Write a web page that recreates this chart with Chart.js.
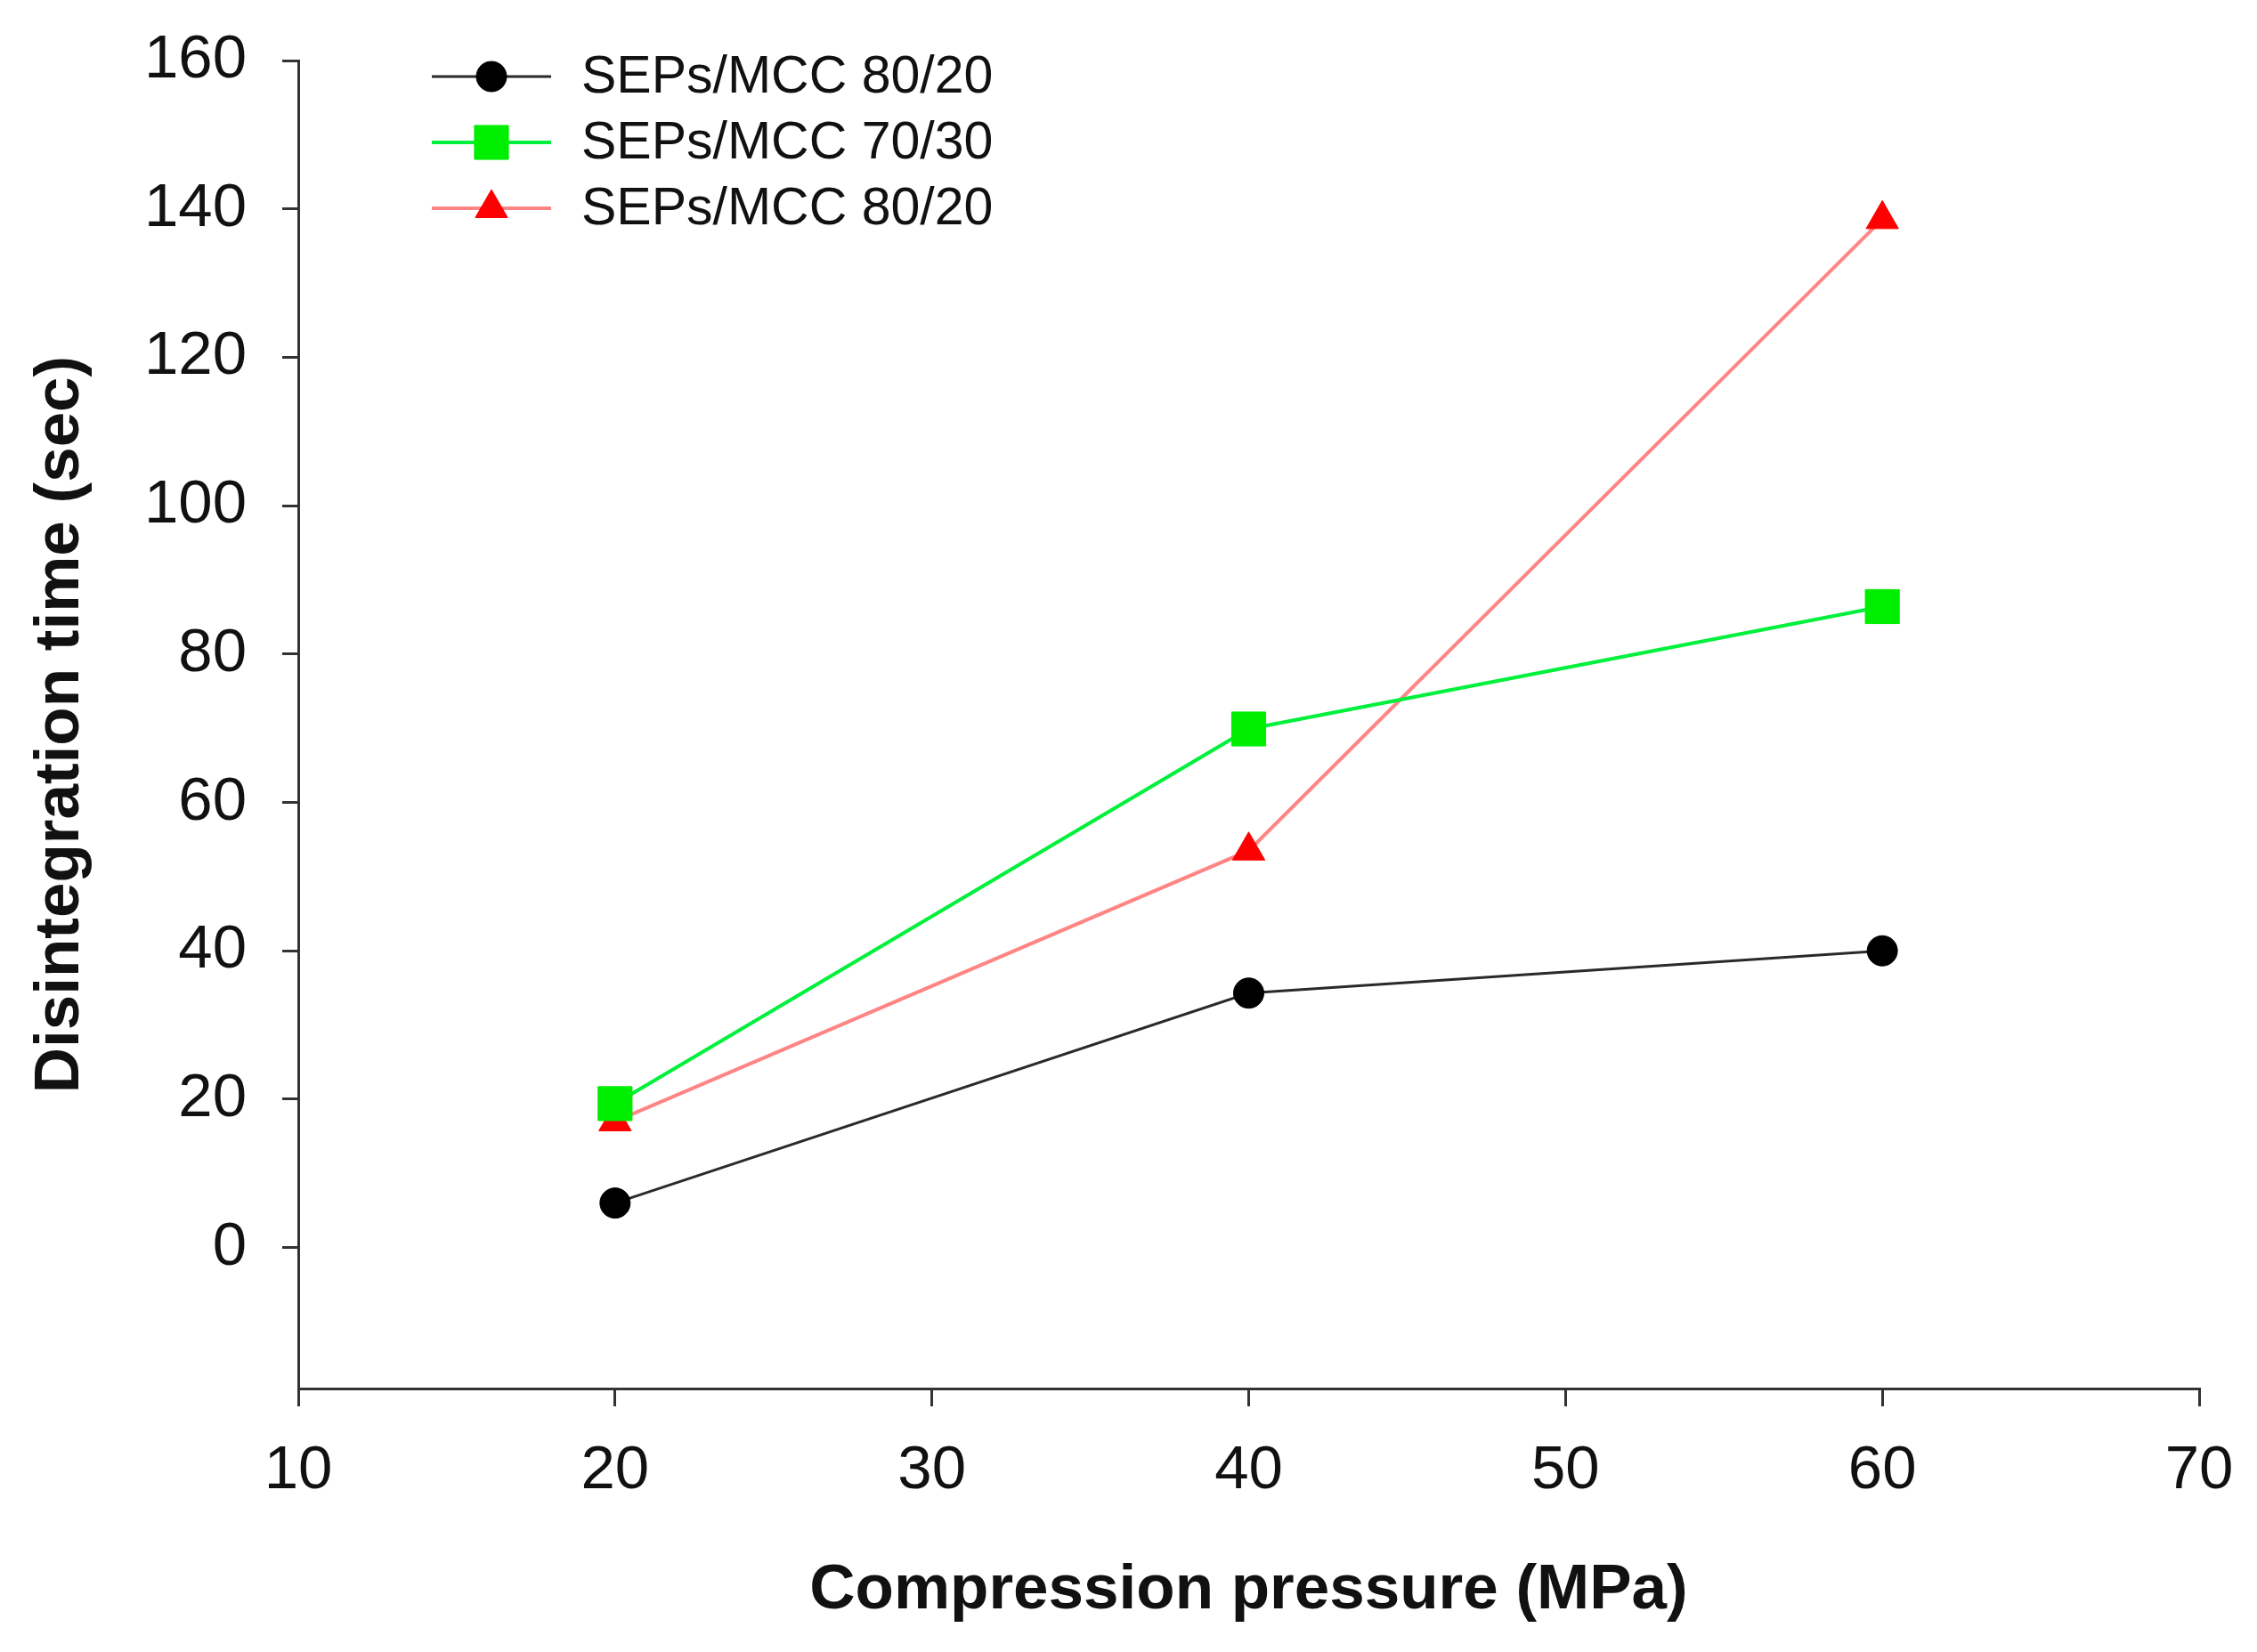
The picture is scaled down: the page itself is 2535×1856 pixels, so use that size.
<!DOCTYPE html>
<html>
<head>
<meta charset="utf-8">
<script src="https://cdn.jsdelivr.net/npm/chart.js@4.4.1/dist/chart.umd.min.js"></script>
<style>
  html, body { margin: 0; padding: 0; background: #fff; }
  #wrap { width: 2535px; height: 1856px; position: relative; }
</style>
</head>
<body>
<div id="wrap"><canvas id="grafica"></canvas></div>
<script>
// datos
const presion = [20, 40, 60];
const serie1 = [6, 34.3, 40];      // SEPs/MCC 80/20 (negro)
const serie2 = [19.4, 69.9, 86.4]; // SEPs/MCC 70/30 (verde)
const serie3 = [17, 53.5, 138.6];  // SEPs/MCC 80/20 (rojo)
const nombres = ['SEPs/MCC 80/20', 'SEPs/MCC 70/30', 'SEPs/MCC 80/20'];
const ticksY = [0, 20, 40, 60, 80, 100, 120, 140, 160];

const fuente = "'Liberation Sans', Arial, sans-serif";

function puntos(valores) {
    return presion.map(function (p, i) { return { x: p, y: valores[i] }; });
}

let datos = {
    datasets: [
        {
            label: nombres[0],
            data: puntos(serie1),
            borderColor: '#2a2a2a',
            borderWidth: 3,
            pointStyle: 'circle',
            pointRadius: 17,
            pointBackgroundColor: '#000000',
            pointBorderColor: '#000000',
            pointBorderWidth: 1
        },
        {
            label: nombres[1],
            data: puntos(serie2),
            borderColor: '#00f03c',
            borderWidth: 4,
            pointStyle: 'rect',
            pointRadius: 27,
            pointBackgroundColor: '#00ee00',
            pointBorderColor: '#00ee00',
            pointBorderWidth: 1
        },
        {
            label: nombres[2],
            data: puntos(serie3),
            borderColor: '#ff8585',
            borderWidth: 4,
            pointStyle: 'triangle',
            pointRadius: 21,
            pointBackgroundColor: '#ff0000',
            pointBorderColor: '#ff0000',
            pointBorderWidth: 1
        }
    ]
};

// leyenda dibujada a mano dentro del area del grafico
const leyenda = {
    id: 'leyenda',
    afterDraw(chart) {
        const {ctx, chartArea: {left, top}} = chart;
        ctx.save();
        chart.data.datasets.forEach(function (ds, i) {
            const y = top + 18 + i * 74;
            ctx.strokeStyle = ds.borderColor;
            ctx.lineWidth = ds.borderWidth;
            ctx.beginPath();
            ctx.moveTo(left + 150, y);
            ctx.lineTo(left + 284, y);
            ctx.stroke();
            ctx.fillStyle = ds.pointBackgroundColor;
            ctx.strokeStyle = ds.pointBorderColor;
            ctx.lineWidth = 1;
            Chart.helpers.drawPoint(ctx, {pointStyle: ds.pointStyle, radius: ds.pointRadius, borderWidth: 1}, left + 217, y);
            ctx.fillStyle = '#111';
            ctx.font = '59px ' + fuente;
            ctx.textAlign = 'left';
            ctx.textBaseline = 'middle';
            ctx.fillText(ds.label, left + 318, y + 2);
        });
        ctx.restore();
    }
};

let opciones = {
    responsive: true,
    maintainAspectRatio: false,
    animation: false,
    layout: { padding: { top: 68, right: 65, left: 0, bottom: 0 } },
    plugins: {
        legend: { display: false },
        tooltip: { enabled: false }
    },
    scales: {
        x: {
            type: 'linear',
            position: 'bottom',
            min: 10,
            max: 70,
            ticks: {
                stepSize: 10,
                color: '#111',
                padding: 32,
                font: { size: 69, family: fuente }
            },
            grid: { drawOnChartArea: false, drawTicks: true, tickLength: 20, color: '#333', lineWidth: 3 },
            border: { display: true, color: '#333', width: 3 },
            title: {
                display: true,
                text: 'Compression pressure (MPa)',
                color: '#111',
                padding: 26,
                font: { size: 71, weight: 'bold', family: fuente }
            },
            afterFit: function (scale) {
                scale.height = 296;
                scale.paddingLeft = 0;
                scale.paddingRight = 0;
            }
        },
        y: {
            type: 'linear',
            min: -19,
            max: 160,
            afterBuildTicks: function (scale) {
                scale.ticks = ticksY.map(function (v) { return { value: v }; });
            },
            ticks: {
                color: '#111',
                padding: 40,
                font: { size: 69, family: fuente }
            },
            grid: { drawOnChartArea: false, drawTicks: true, tickLength: 18, color: '#333', lineWidth: 3 },
            border: { display: true, color: '#333', width: 3 },
            title: {
                display: true,
                text: 'Disintegration time (sec)',
                color: '#111',
                padding: 26,
                font: { size: 71, weight: 'bold', family: fuente }
            },
            afterFit: function (scale) {
                scale.width = 335;
                scale.paddingTop = 0;
                scale.paddingBottom = 0;
            }
        }
    }
};

var referenciaContenedor = document.getElementById('grafica');
let miGrafica = new Chart(referenciaContenedor, {
    type: 'line',
    data: datos,
    options: opciones,
    plugins: [leyenda]
});
</script>
</body>
</html>
